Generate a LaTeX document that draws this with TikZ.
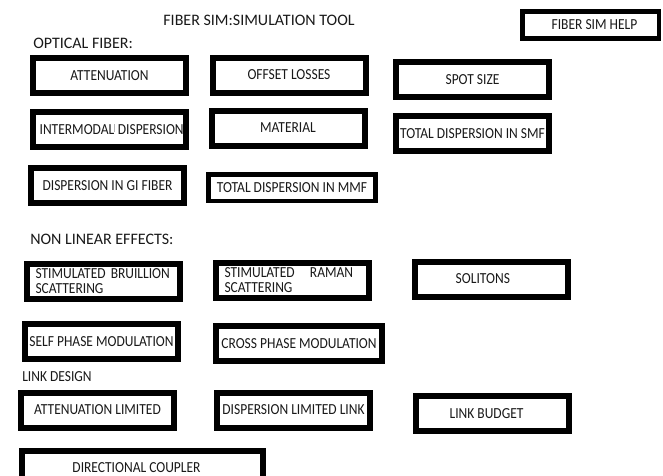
\documentclass[tikz,border=0pt]{standalone}
\usepackage{fontspec}
\setmainfont{Carlito}
\newfontfamily\boxfamily[FakeStretch=0.88]{Carlito}
\usepackage{tikz}

\newcommand{\boxfont}{\boxfamily\fontsize{11.5pt}{11.5pt}\selectfont}
\newcommand{\headfont}{\fontsize{12pt}{14pt}\selectfont}

\begin{document}
\begin{tikzpicture}[x=0.75pt,y=-0.75pt,
    cell/.style={draw, line width=4.5pt, minimum width=114.75pt, minimum height=26.25pt, inner sep=0pt, font=\boxfont, text=black!90},
    thincell/.style={cell, line width=3.4pt},
    widecell/.style={minimum width=124.5pt},
    twoline/.style={text width=102pt, align=left},
    head/.style={anchor=west, inner sep=0pt, font=\headfont, text=black!90}]
        \useasboundingbox (0,0) rectangle (663,475);
        \clip (0,0) rectangle (663,475);

        \node[inner sep=0pt, font=\headfont, text=black!90] (title) at (259,20) {FIBER SIM:SIMULATION TOOL};
        \node[thincell, minimum width=102.4pt, minimum height=20.6pt] (help) at (590.5,25) {\hspace*{6pt}FIBER SIM HELP};

        \node[head] (optical) at (33,43) {OPTICAL FIBER:};
        \node[cell] (f1) at (109.5,75.5) {ATTENUATION};
        \node[cell] (f2) at (289,75) {OFFSET LOSSES};
        \node[cell] (f3) at (472.5,79.5) {SPOT SIZE};
        \node[cell] (f4) at (109,129.5) {\hspace*{4pt}INTERMODAL{\color{gray!60}\rule[0.4ex]{0.4pt}{1.1ex}} DISPERSION};
        \node[cell] (f5) at (288,128) {MATERIAL};
        \node[cell] (f6) at (472.5,133.5) {TOTAL DISPERSION IN SMF};
        \node[cell] (f7) at (107.5,185.5) {DISPERSION IN GI FIBER};
        \node[thincell, minimum width=125.6pt, minimum height=19.9pt] (f8) at (292,187.5) {TOTAL DISPERSION IN MMF};

        \node[head] (nonlin) at (30,239) {NON LINEAR EFFECTS:};
        \node[cell, twoline] (n1) at (103.5,281) {STIMULATED BRUILLION\\SCATTERING};
        \node[cell, twoline] (n2) at (292.5,280) {STIMULATED\ \ \ RAMAN\\SCATTERING};
        \node[cell] (n3) at (491.5,279) {SOLITONS\hspace*{13pt}};
        \node[cell] (n4) at (101.5,341.5) {SELF PHASE MODULATION};
        \node[cell, widecell] (n5) at (299,343.5) {CROSS PHASE MODULATION};

        \node[head, font=\boxfont] (linkdesign) at (22,377) {LINK DESIGN};
        \node[cell] (l1) at (97.5,410) {ATTENUATION LIMITED};
        \node[cell] (l2) at (293.5,410) {DISPERSION LIMITED LINK};
        \node[cell] (l3) at (492.5,413.5) {LINK BUDGET\hspace*{9pt}};
        \node[cell, minimum width=180.75pt] (l4) at (142.5,468) {DIRECTIONAL COUPLER\hspace*{9pt}};
\end{tikzpicture}
\end{document}
